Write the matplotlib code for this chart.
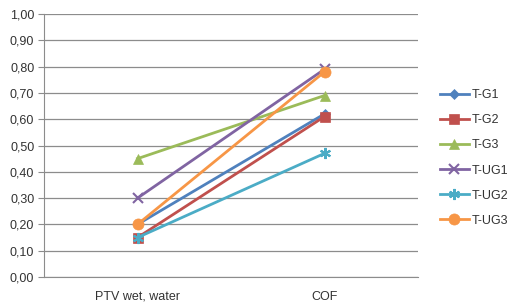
import matplotlib
matplotlib.use("Agg")
import matplotlib.pyplot as plt

categories = ["PTV wet, water", "COF"]
series_names = ["T-G1", "T-G2", "T-G3", "T-UG1", "T-UG2", "T-UG3"]
t_g1 = [0.20, 0.62]
t_g2 = [0.15, 0.61]
t_g3 = [0.45, 0.69]
t_ug1 = [0.30, 0.79]
t_ug2 = [0.15, 0.47]
t_ug3 = [0.20, 0.78]
y_ticks = [0.0, 0.1, 0.2, 0.3, 0.4, 0.5, 0.6, 0.7, 0.8, 0.9, 1.0]

series = [t_g1, t_g2, t_g3, t_ug1, t_ug2, t_ug3]
colors = ["#4F81BD", "#C0504D", "#9BBB59", "#8064A2", "#4BACC6", "#F79646"]
markers = ["D", "s", "^", "x", (6, 2, 0), "o"]
msizes = [5.5, 7, 7, 7, 8, 8]

plt.rcParams['font.family'] = ['Liberation Sans', 'DejaVu Sans']
fig = plt.figure(figsize=(5.12, 3.07), dpi=100)
ax = fig.add_axes([44/512, 1-277/307, 374/512, 263/307])

x = list(range(len(categories)))
for name, vals, c, m, ms in zip(series_names, series, colors, markers, msizes):
    ax.plot(x, vals, color=c, lw=2.0, marker=m, markersize=ms,
            markeredgewidth=1.5 if m in ("x", (6, 2, 0)) else 0.5,
            markeredgecolor=c, markerfacecolor=c, label=name, zorder=3)

ax.set_xlim(-0.5, 1.5)
ax.set_ylim(0, 1.0)
ax.set_yticks(y_ticks)
ax.set_yticklabels([f"{v:.2f}".replace(".", ",") for v in y_ticks])
ax.set_xticks(x)
ax.set_xticklabels(categories)
ax.yaxis.grid(True, color="#8C8C8C", lw=0.9)
ax.set_axisbelow(True)
for s in ["top", "right"]:
    ax.spines[s].set_visible(False)
ax.spines["left"].set_color("#8C8C8C")
ax.spines["bottom"].set_color("#8C8C8C")
ax.tick_params(axis="y", length=4, color="#8C8C8C", labelsize=9, labelcolor="#333333", pad=3)
ax.tick_params(axis="x", length=0, labelsize=9, labelcolor="#333333", pad=10)

leg = fig.legend(loc="center left", bbox_to_anchor=(440/512, 1-158/307),
                 frameon=False, fontsize=9, borderpad=0, borderaxespad=0,
                 handlelength=2.3, handletextpad=0.25, labelspacing=1.05,
                 labelcolor="#333333")

fig.savefig("out.png", dpi=100)
